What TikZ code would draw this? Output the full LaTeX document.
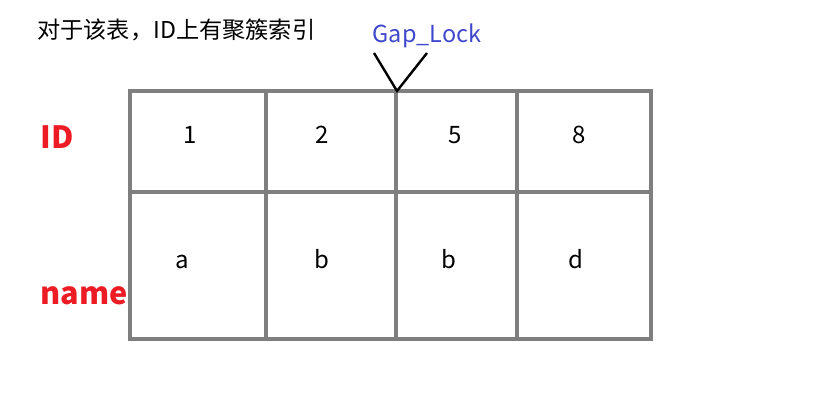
\documentclass[tikz,border=0pt]{standalone}
\usepackage{fontspec}
\setmainfont{Noto Sans CJK SC}
\usetikzlibrary{positioning}
\definecolor{gridgray}{RGB}{127,127,127}
\definecolor{keyred}{RGB}{237,28,36}
\definecolor{lockblue}{RGB}{63,72,204}

\begin{document}
\begin{tikzpicture}[x=0.75pt,y=-0.75pt,
    gridline/.style={draw=gridgray,line width=2.6pt},
    cell/.style={anchor=base,inner sep=0pt,font=\fontsize{18}{20}\selectfont},
    head/.style={anchor=base west,inner sep=0pt,text=keyred,
      font=\fontsize{23}{26}\selectfont\bfseries}]
  \useasboundingbox (0,0) rectangle (826,410);
  % table
  \draw[gridline] (130,91) rectangle (651,339);
  \draw[gridline] (130,192) -- (651,192);
  \foreach \x in {266,396,517}
    \draw[gridline] (\x,91) -- (\x,339);
  % texts
  \node[anchor=west,inner sep=0pt,font=\fontsize{17.4}{20}\selectfont]
    (title) at (37,30) {对于该表，ID上有聚簇索引};
  \node[head] (id-head) at (40,149) {ID};
  \node[head] (name-head) at (40,305) {name};
  \node[cell] (id-1) at (190,144) {1};
  \node[cell] (id-2) at (322,144) {2};
  \node[cell] (id-5) at (455,144) {5};
  \node[cell] (id-8) at (579,144) {8};
  \node[cell] (name-1) at (182,268) {a};
  \node[cell] (name-2) at (322,268) {b};
  \node[cell] (name-5) at (449,268) {b};
  \node[cell] (name-8) at (576,268) {d};
  % gap lock mark
  \node[anchor=base,inner sep=0pt,text=lockblue,font=\fontsize{17.6}{20}\selectfont]
    (gap) at (427,43) {Gap\_Lock};
  \coordinate (gap-l) at (374,53);
  \coordinate (gap-tip) at (397,91);
  \coordinate (gap-r) at (427,53);
  \draw[line width=1.8pt] (gap-l) -- (gap-tip) -- (gap-r);
\end{tikzpicture}
\end{document}
